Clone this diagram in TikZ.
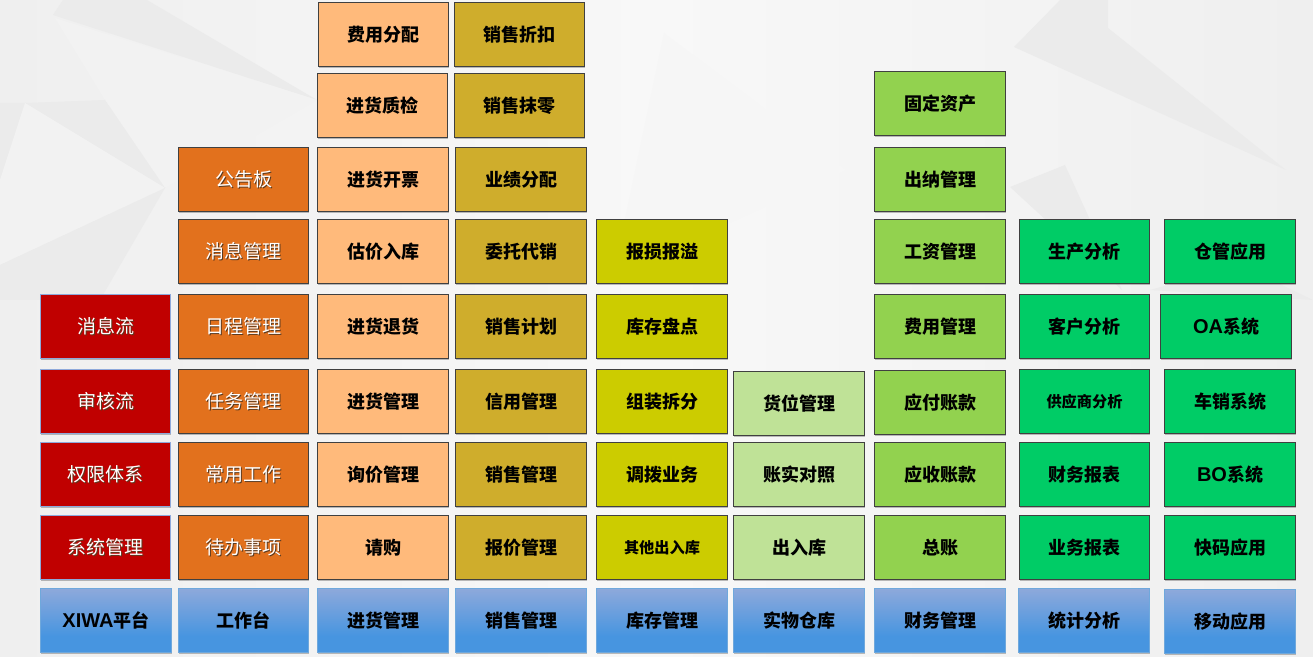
\documentclass[tikz,border=0pt]{standalone}
\usepackage{fontspec}
\setmainfont{Noto Sans CJK SC}
\newfontfamily\latinfont{Liberation Sans}
\usetikzlibrary{shadows}
\definecolor{bgedge}{HTML}{EFEFEF}
\definecolor{bgmid}{HTML}{F8F8F8}
\definecolor{bgdark}{HTML}{EBEBEB}
\definecolor{bglight}{HTML}{F2F2F2}
\definecolor{bgfaint}{HTML}{F6F6F6}
\definecolor{redfill}{HTML}{C00000}
\definecolor{orangefill}{HTML}{E2711D}
\definecolor{peachfill}{HTML}{FFBA7B}
\definecolor{goldfill}{HTML}{CFAD2C}
\definecolor{yellowfill}{HTML}{CCCC00}
\definecolor{palefill}{HTML}{BFE297}
\definecolor{leaffill}{HTML}{92D24F}
\definecolor{greenfill}{HTML}{00CC66}
\definecolor{bluetop}{HTML}{8EA9DB}
\definecolor{bluebot}{HTML}{4795E0}
\definecolor{blueline}{HTML}{6FA8DC}
\definecolor{softgray}{HTML}{5A3A20}
\pgfdeclareverticalshading{bluefade}{100bp}{color(0bp)=(bluebot); color(38bp)=(bluebot); color(75bp)=(bluetop); color(100bp)=(bluetop)}
\newcommand{\softtext}[1]{\makebox[0pt][l]{\kern.6pt\raisebox{-.6pt}{\color{softgray}#1}}#1}
\newcommand{\lat}[1]{{\latinfont\fontsize{10}{11}\selectfont #1}}
\tikzset{
  gridbox/.style={rectangle, minimum width=65.4pt, minimum height=32.4pt, inner sep=0pt, outer sep=0pt, line width=.5pt, draw=black!75, font=\bfseries\fontsize{9}{11}\selectfont, text=black, drop shadow={shadow xshift=.2pt, shadow yshift=-.5pt, opacity=.25, fill=black}},
  whitebox/.style={gridbox, text=white, font=\fontsize{9.5}{11}\selectfont},
  redbox/.style={whitebox, fill=redfill, draw=bluetop},
  orangebox/.style={whitebox, fill=orangefill},
  peachbox/.style={gridbox, fill=peachfill},
  goldbox/.style={gridbox, fill=goldfill},
  yellowbox/.style={gridbox, fill=yellowfill},
  palebox/.style={gridbox, fill=palefill},
  leafbox/.style={gridbox, fill=leaffill},
  greenbox/.style={gridbox, fill=greenfill},
  bluebox/.style={gridbox, shading=bluefade, draw=blueline, drop shadow={opacity=0}},
  smalltext/.style={font=\bfseries\fontsize{7.6}{9}\selectfont}
}
\begin{document}
\begin{tikzpicture}[x=.5pt, y=-.5pt]
\useasboundingbox (0, 0) rectangle (1313, 657);
% background facets
\shade[left color=bgedge, right color=bgedge, middle color=bgmid] (0, 0) rectangle (1313, 657);
\fill[bgdark] (53, 15) -- (63, 0) -- (147, 0) -- (317, 100) -- cycle;
\fill[bglight] (55, 18) -- (317, 100) -- (165, 188) -- (105, 100) -- cycle;
\fill[bgdark] (25, 103) -- (105, 100) -- (165, 188) -- cycle;
\fill[bgdark] (0, 103) -- (25, 103) -- (0, 180) -- cycle;
\fill[bglight] (25, 103) -- (165, 188) -- (0, 265) -- (0, 180) -- cycle;
\fill[bgdark] (0, 265) -- (165, 188) -- (100, 300) -- (0, 300) -- cycle;
\fill[bgfaint] (664, 33) -- (846, 170) -- (613, 276) -- cycle;
\fill[bgdark] (1014, 47) -- (1060, 0) -- (1108, 0) -- (1108, 28) -- (1286, 170) -- cycle;
\fill[bgdark] (1010, 187) -- (1065, 165) -- (1122, 290) -- cycle;
\fill[bgdark] (1150, 290) -- (1240, 265) -- (1313, 300) -- cycle;
% left columns
\node[redbox] (msgflow) at (105.5, 326.5) {\softtext{消息流}};
\node[redbox] (auditflow) at (105.5, 401.5) {\softtext{审核流}};
\node[redbox] (rights) at (105.5, 474.5) {\softtext{权限体系}};
\node[redbox] (sysadmin) at (105.5, 547.5) {\softtext{系统管理}};
\node[bluebox] (xiwa) at (106, 620.5) {\lat{XIWA}平台};
\node[orangebox] (notice) at (243.5, 179.5) {\softtext{公告板}};
\node[orangebox] (msgmgmt) at (243.5, 251.5) {\softtext{消息管理}};
\node[orangebox] (schedule) at (243.5, 326.5) {\softtext{日程管理}};
\node[orangebox] (taskmgmt) at (243.5, 401.5) {\softtext{任务管理}};
\node[orangebox] (routine) at (243.5, 474.5) {\softtext{常用工作}};
\node[orangebox] (todo) at (243.5, 547.5) {\softtext{待办事项}};
\node[bluebox] (desk) at (243.5, 620.5) {工作台};
% purchasing
\node[peachbox] (costsplit) at (383.5, 34.5) {费用分配};
\node[peachbox] (buycheck) at (382.5, 105.5) {进货质检};
\node[peachbox] (buyinvoice) at (383, 179.5) {进货开票};
\node[peachbox] (estimate) at (383, 251.5) {估价入库};
\node[peachbox] (buyreturn) at (383, 326.5) {进货退货};
\node[peachbox] (buymgmt) at (383, 401.5) {进货管理};
\node[peachbox] (inquiry) at (383, 474.5) {询价管理};
\node[peachbox] (request) at (383, 547.5) {请购};
\node[bluebox] (buying) at (383, 620.5) {进货管理};
% sales
\node[goldbox] (discount) at (519.5, 34.5) {销售折扣};
\node[goldbox] (rounding) at (519.5, 105.5) {销售抹零};
\node[goldbox] (merit) at (521, 179.5) {业绩分配};
\node[goldbox] (consign) at (521, 251.5) {委托代销};
\node[goldbox] (salesplan) at (521, 326.5) {销售计划};
\node[goldbox] (credit) at (521, 401.5) {信用管理};
\node[goldbox] (salesmgmt) at (521, 474.5) {销售管理};
\node[goldbox] (quote) at (521, 547.5) {报价管理};
\node[bluebox] (sales) at (521, 620.5) {销售管理};
% stock
\node[yellowbox] (damage) at (662, 251.5) {报损报溢};
\node[yellowbox] (stocktake) at (662, 326.5) {库存盘点};
\node[yellowbox] (assembly) at (662, 401.5) {组装拆分};
\node[yellowbox] (transfer) at (662, 474.5) {调拨业务};
\node[yellowbox, smalltext] (otherout) at (662, 547.5) {其他出入库};
\node[bluebox] (stock) at (662, 620.5) {库存管理};
% warehouse
\node[palebox] (slot) at (799, 403.5) {货位管理};
\node[palebox] (recon) at (799, 474.5) {账实对照};
\node[palebox] (inout) at (799, 547.5) {出入库};
\node[bluebox] (depot) at (799, 620.5) {实物仓库};
% finance
\node[leafbox] (assets) at (940, 103.5) {固定资产};
\node[leafbox] (cashier) at (940, 179.5) {出纳管理};
\node[leafbox] (payroll) at (940, 251.5) {工资管理};
\node[leafbox] (expense) at (940, 326.5) {费用管理};
\node[leafbox] (payable) at (940, 402.5) {应付账款};
\node[leafbox] (receivable) at (940, 474.5) {应收账款};
\node[leafbox] (ledger) at (940, 547.5) {总账};
\node[bluebox] (finance) at (940, 620.5) {财务管理};
% analysis
\node[greenbox] (prod) at (1084.5, 251.5) {生产分析};
\node[greenbox] (client) at (1084.5, 326.5) {客户分析};
\node[greenbox, smalltext] (supplier) at (1084.5, 401.5) {供应商分析};
\node[greenbox] (finreport) at (1084.5, 474.5) {财务报表};
\node[greenbox] (bizreport) at (1084.5, 547.5) {业务报表};
\node[bluebox] (stats) at (1084, 620.5) {统计分析};
% mobile
\node[greenbox] (whapp) at (1230, 251.5) {仓管应用};
\node[greenbox] (oa) at (1226, 326.5) {\lat{OA}系统};
\node[greenbox] (vansale) at (1230, 401.5) {车销系统};
\node[greenbox] (bo) at (1230, 474.5) {\lat{BO}系统};
\node[greenbox] (quick) at (1230, 547.5) {快码应用};
\node[bluebox] (mobile) at (1230, 621.5) {移动应用};
\end{tikzpicture}
\end{document}
